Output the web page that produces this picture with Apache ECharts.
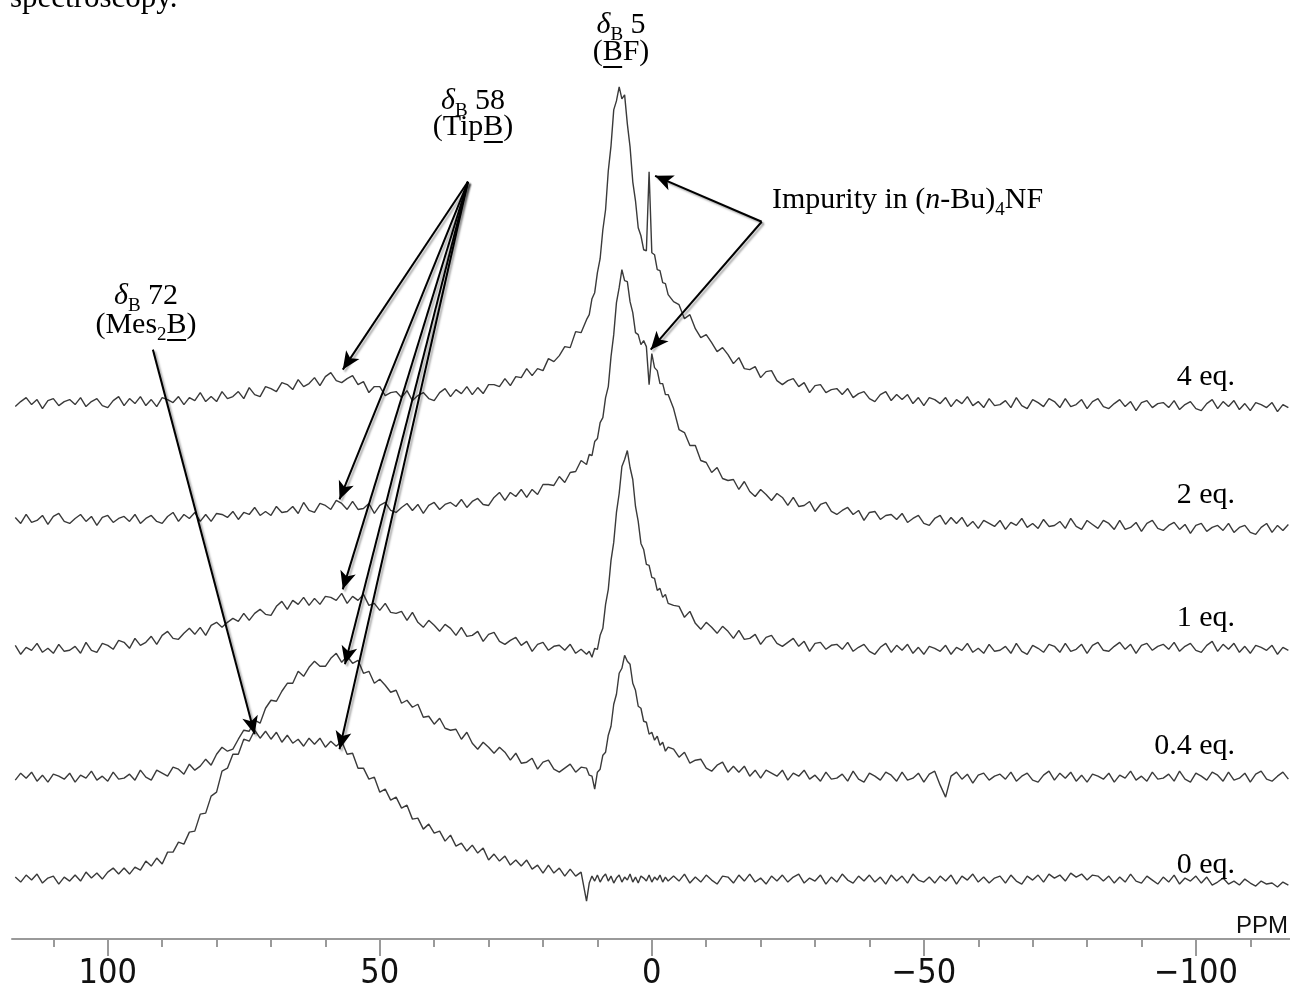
<!DOCTYPE html>
<html><head><meta charset="utf-8">
<script src="https://cdn.jsdelivr.net/npm/echarts@6/dist/echarts.min.js"></script>
<style>html,body{margin:0;padding:0;background:#fff;}#c{width:1290px;height:991px;}</style>
</head><body><div id="c"></div>
<script>
// ---- sampling of the chemical-shift axis (ppm) ----
const ppm = [];
for (let p = 117; p >= 13; p--) ppm.push(p);
for (let i = 0; i <= 30; i++) ppm.push(12 - i * 0.5);
for (let p = -4; p >= -117; p--) ppm.push(p);

// ---- trace labels and vertical offsets (stack) ----
const traceNames = ['0 eq.', '0.4 eq.', '1 eq.', '2 eq.', '4 eq.'];
const traceOffsets = [60, 162, 290, 415, 535];

// ---- intensities (117..13 step 1 | 12..-3 step 0.5 | -4..-117 step 1) ----
const eq0 = [
 2,-3,4,-1,5,-4,1,3,-5,2, -2,4,-2,7,1,6,0,7,11,5, 11,5,12,9,18,13,21,15,27,27, 37,35,47,48,65,66,83,87,108,111,
 125,125,140,138,149,141,148,140,147,137, 144,136,140,133,141,135,141,132,138,133, 138,125,126,111,111,100,102,87,90,79,
 82,71,74,60,61,50,55,46,48,38, 44,33,36,28,34,26,31,19,25,18, 23,14,19,13,19,10,14,6,14,6, 11,3,10,3,7,
 -22,-4,3,-2,4,-3,2,5,-2,3,-4,1,4,-3,2,-1,5,-3,2,-4,3,1,-2,4,-3,2,-1,4,-3,2,-2,
 3,-2,5,-4,2,-3,4,-1,-5,3, 2,-4,4,-2,5,-3,1,-5,3,-2, 4,-3,2,5,-4,1,-2,4,-5,2, -3,5,-1,-4,3,-2,4,-3,2,-5,
 4,-2,3,-4,5,-1,-3,2,-4,3, -2,4,-5,3,-1,5,-3,2,-4,1, 3,-4,4,-2,-5,3,-1,4,-3,5, 1,4,-2,6,2,5,-1,4,3,-2,
 3,-4,2,-3,5,-2,-4,3,-1,-5, 2,-3,4,-5,1,-2,3,-4,2,-6, -3,1,-5,-2,-6,0,-4,-7,-2,-5, -4,-8,-3,-6
];
const eq04 = [
 -3,4,-1,5,-4,2,-5,3,1,-2, 4,-5,2,-1,6,-3,1,-4,5,-2, -1,3,-3,7,0,-3,7,4,1,10, 8,3,13,7,11,18,12,23,30,26,
 28,38,47,46,57,54,69,77,76,86, 94,94,106,101,110,116,111,111,119,124, 115,121,114,117,104,106,94,98,92,85,
 87,74,77,70,73,60,61,53,59,49, 47,48,38,45,34,28,35,30,24,30, 25,17,24,14,15,19,8,15,17,8, 5,9,13,5,10,
 9,2,1,-12,5,8,22,25,42,51,73,83,104,109,122,116,113,94,87,71,69,56,55,43,45,37,41,32,35,26,30,
 28,20,25,14,17,18,9,6,12,15, 5,11,5,11,1,7,-1,7,4,1, 7,-3,4,1,7,-2,2,-4,5,-2, -1,3,-4,6,-2,-5,4,1,-3,5,
 2,-4,5,-3,-1,4,-5,3,6,-8, -20,1,5,-2,3,-6,2,4,-3,1, 3,-2,5,-4,1,4,-3,-5,2,6, -3,4,-1,5,-4,2,-5,3,1,-2,
 4,-5,2,-1,6,-3,1,-4,5,-2, -1,3,-4,6,-2,-5,4,1,-3,5, 2,-4,5,-3,-1,4,-5,3,6,-2, -4,1,5,-2
];
const eq1 = [
 4,-5,2,-1,6,-3,1,-4,5,-2, -1,3,-4,7,-1,-3,6,4,0,9, 7,1,11,4,7,13,5,14,18,11, 10,16,21,15,22,14,24,27,22,27,
 31,28,36,29,36,40,35,34,43,48, 40,49,45,52,44,51,45,53,52,49, 56,46,53,49,55,44,46,39,46,37,
 36,38,29,37,27,22,29,24,18,25, 21,14,22,13,14,18,8,15,17,8, 5,9,12,4,8,-2,5,7,-1,3, 4,-1,5,-4,0,
 -5,-2,-8,1,0,14,21,45,60,89,107,137,156,183,190,199,182,170,143,128,106,100,85,84,72,71,59,61,52,55,46,
 44,43,32,38,26,20,27,22,16,23, 18,11,19,10,11,15,5,12,14,6, 3,7,11,3,8,-2,6,7,0,4, 5,0,7,-2,2,5,-2,-5,2,6,
 -3,4,-1,5,-4,2,-5,3,1,-2, 4,-5,2,-1,6,-3,1,-4,5,-2, -1,3,-4,6,-2,-5,4,1,-3,5, 3,-3,6,-2,0,5,-4,4,7,-1,
 -2,3,7,0,5,-4,4,6,-1,3, 5,0,7,-2,3,6,-1,-3,4,8, -2,5,0,6,-3,3,-4,4,2,-1, 4,-5,2,-1
];
const eq2 = [
 7,1,10,2,4,9,0,8,11,3, 1,6,10,3,8,-1,7,9,2,6, 8,3,10,1,6,9,3,1,8,12, 3,10,6,12,3,10,3,11,10,7,
 13,5,12,10,17,9,13,9,18,12, 13,18,11,22,14,12,21,19,15,24, 21,15,23,15,16,21,11,19,22,14,
 12,17,21,14,20,11,19,22,15,20, 22,18,25,17,23,26,20,19,27,32, 24,32,28,35,27,35,30,40,40,39, 48,42,52,53,64,
 60,70,69,83,86,102,107,127,138,168,190,222,237,255,244,243,223,212,192,190,180,184,178,140,171,157,154,141,141,130,130,
 116,95,92,79,79,64,62,52,57,46, 44,45,35,43,33,28,35,30,24,31, 27,19,27,18,19,23,13,20,22,13, 10,14,17,10,14,4,12,13,5,9,
 10,5,11,2,6,9,1,-1,6,9, 0,7,1,7,-2,3,-4,4,1,-2, 4,-5,2,-1,6,-3,1,-4,5,-2, -1,3,-4,6,-2,-5,4,0,-4,4,
 1,-5,4,-5,-3,2,-7,1,4,-4, -6,-1,2,-5,0,-9,-1,1,-7,-3, -1,-6,1,-8,-3,-1,-8,-10,-3,1, -8,-1,-6,0
];
const eq4 = [
 -2,3,7,0,5,-4,4,6,-1,3, 5,0,7,-2,3,6,-1,-3,4,8, -1,6,1,8,-1,5,-2,7,5,2, 8,0,7,4,12,3,8,3,13,6,
 8,13,6,17,10,8,18,16,13,22, 20,15,25,18,21,27,19,28,32,24, 22,26,29,20,23,12,18,18,9,12,
 13,7,14,4,9,12,6,4,12,16, 8,15,11,18,10,17,11,20,20,18, 26,19,28,27,36,29,36,34,46,43, 49,58,57,73,72,
 85,90,106,112,132,146,175,195,234,259,295,304,318,306,310,281,258,223,204,177,169,155,154,233,152,150,135,134,122,121,110,
 103,100,86,90,76,67,70,62,53,57, 50,41,47,36,35,38,27,33,34,24, 20,24,26,18,22,12,19,20,12,15, 16,10,16,7,11,13,6,3,10,13,
 4,10,5,10,1,7,-1,7,5,1, 7,-2,5,1,8,-1,3,-3,6,-1, 0,4,-3,7,-1,-4,5,2,-2,6, 3,-3,6,-2,0,5,-4,3,6,-2,
 -4,1,5,-2,3,-6,2,4,-3,1, 2,-3,4,-5,0,3,-4,-6,1,5, -4,3,-2,4,-5,1,-6,2,0,-3, 2,-7,0,-3
];
const traces = [eq0, eq04, eq1, eq2, eq4];

// ---- axis ticks ----
const minorTicks = [110,100,90,80,70,60,50,40,30,20,10,0,-10,-20,-30,-40,-50,-60,-70,-80,-90,-100,-110];
const majorTicks = [100,50,0,-50,-100];

// ---- arrows (ppm, stacked intensity) : from -> to ----
const arrows = [
 [33.8,758, 56.8,570], [33.8,758, 57.4,440], [33.8,758, 56.8,350], [33.8,758, 56.4,275], [33.8,758, 57.4,190],
 [91.7,590, 73.0,205],
 [-20.2,718, -0.6,764], [-20.2,718, 0.2,590]
];

const chart = echarts.init(document.getElementById('c'), null, {renderer:'canvas'});

const SERIF = "'Liberation Serif','Times New Roman',serif";
const mctx = document.createElement('canvas').getContext('2d');
function fontStr(s){ return (s.it ? 'italic ' : '') + s.sz + 'px ' + SERIF; }
function textLine(segs, ax, base, align){
  let tot = 0;
  segs.forEach(s => { mctx.font = fontStr(s); s.w = mctx.measureText(s.t).width; tot += s.w; });
  let x = align === 'center' ? ax - tot/2 : align === 'right' ? ax - tot : ax;
  const out = [];
  segs.forEach(s => {
    const f = fontStr(s); mctx.font = f;
    const m = mctx.measureText(s.t);
    const a = m.fontBoundingBoxAscent || s.sz*0.891, d = m.fontBoundingBoxDescent || s.sz*0.216;
    const yb = base + (s.dy || 0);
    out.push({type:'text', x:x, y: yb - (a-d)/2, z:100, silent:true,
      style:{text:s.t, font:f, fill:'#000', align:'left', verticalAlign:'middle', textAlign:'left', textVerticalAlign:'middle'}});
    if (s.u) out.push({type:'rect', z:100, silent:true, shape:{x:x+0.5, y:yb+3, width:s.w-1, height:2}, style:{fill:'#000'}});
    x += s.w;
  });
  return out;
}
const F = 30, SUB = 19, DROP = 6;
const g = [].concat(
  textLine([{t:'spectroscopy.', sz:31}], 10, 9, 'left'),
  textLine([{t:'\u03B4', sz:F, it:1},{t:'B', sz:SUB, dy:DROP},{t:' 5', sz:F}], 621, 36, 'center'),
  textLine([{t:'(', sz:F},{t:'B', sz:F, u:1},{t:'F)', sz:F}], 621, 63, 'center'),
  textLine([{t:'\u03B4', sz:F, it:1},{t:'B', sz:SUB, dy:DROP},{t:' 58', sz:F}], 473, 112, 'center'),
  textLine([{t:'(Tip', sz:F},{t:'B', sz:F, u:1},{t:')', sz:F}], 473, 138, 'center'),
  textLine([{t:'\u03B4', sz:F, it:1},{t:'B', sz:SUB, dy:DROP},{t:' 72', sz:F}], 146, 307, 'center'),
  textLine([{t:'(Mes', sz:F},{t:'2', sz:SUB, dy:DROP},{t:'B', sz:F, u:1},{t:')', sz:F}], 146, 336, 'center'),
  textLine([{t:'Impurity in (', sz:F},{t:'n', sz:F, it:1},{t:'-Bu)', sz:F},{t:'4', sz:SUB, dy:DROP},{t:'NF', sz:F}], 772, 211, 'left'),
  textLine([{t:'4 eq.', sz:F}], 1235, 388, 'right'),
  textLine([{t:'2 eq.', sz:F}], 1235, 506, 'right'),
  textLine([{t:'1 eq.', sz:F}], 1235, 629, 'right'),
  textLine([{t:'0.4 eq.', sz:F}], 1235, 757, 'right'),
  textLine([{t:'0 eq.', sz:F}], 1235, 876, 'right'),
  [{type:'text', x:1288, y:926, z:100, silent:true, style:{text:'PPM', font:"24px 'Liberation Sans', Arial, sans-serif", fill:'#111', align:'right', verticalAlign:'middle', textAlign:'right', textVerticalAlign:'middle'}}]
);

const series = traces.map((vals, k) => ({
  name: traceNames[k], type:'line', xAxisIndex:0, yAxisIndex:0,
  symbol:'none', showSymbol:false, silent:true, clip:false,
  lineStyle:{color:'#3a3a3a', width:1.4},
  data: ppm.map((p, i) => [p, vals[i] + traceOffsets[k]])
}));
series[0].markLine = {
  silent:true, symbol:['none','arrow'], symbolSize:[12,18], label:{show:false},
  lineStyle:{color:'#000', width:2, type:'solid', shadowColor:'rgba(0,0,0,0.35)', shadowBlur:2, shadowOffsetX:2, shadowOffsetY:2},
  emphasis:{disabled:true},
  data: arrows.map(a => [{coord:[a[0], a[1]]}, {coord:[a[2], a[3]]}])
};

const axisCommon = {type:'value', inverse:true, min:-117.3, max:117.6, position:'bottom', splitLine:{show:false}};
chart.setOption({
  animation:false,
  grid:{left:12, right:0, top:0, bottom:51},
  xAxis:[
    Object.assign({}, axisCommon, {
      axisLine:{show:true, lineStyle:{color:'#9a9a9a', width:2}},
      axisTick:{show:true, customValues:minorTicks, length:8, lineStyle:{color:'#9a9a9a', width:2}},
      axisLabel:{show:false}
    }),
    Object.assign({}, axisCommon, {
      offset:0,
      axisLine:{show:false},
      axisTick:{show:true, customValues:majorTicks, length:17, lineStyle:{color:'#9a9a9a', width:2}},
      axisLabel:{show:true, customValues:majorTicks, margin:18, color:'#111', fontSize:34,
        fontFamily:"'Liberation Sans Narrow','Arial Narrow','DejaVu Sans Condensed',sans-serif",
        formatter: v => String(v).replace('-', '\u2212')}
    })
  ],
  yAxis:{type:'value', min:0, max:940, show:false},
  series: series,
  graphic: g
});
</script></body></html>
